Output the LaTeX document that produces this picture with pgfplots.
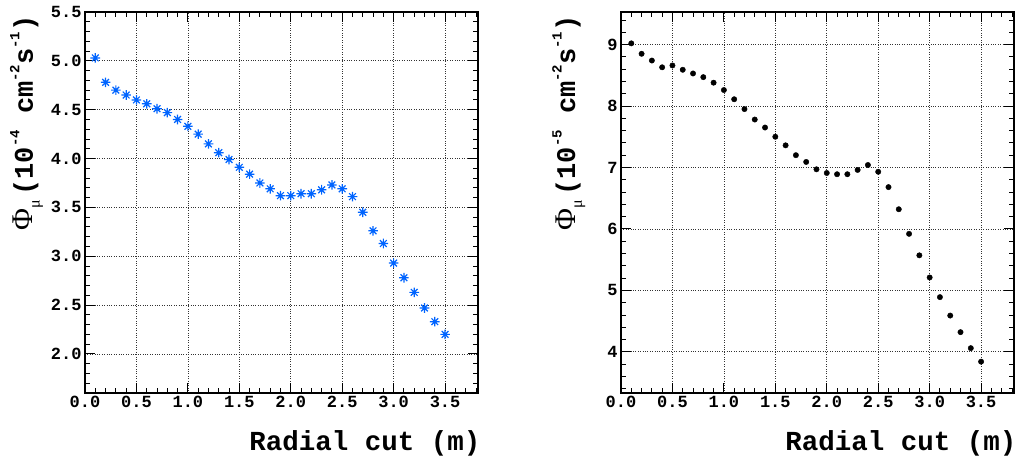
\documentclass[border=0pt]{standalone}
\usepackage{fontspec}
\setmonofont{Liberation Mono}
\newfontfamily\serif{Liberation Serif}
\usepackage{pgfplots}
\pgfplotsset{compat=1.18}
\usepackage{xcolor}
\definecolor{rootblue}{RGB}{0,100,255}

% ROOT style star: + and x overlaid
\pgfdeclareplotmark{rootstar}{%
  \pgfpathmoveto{\pgfqpoint{-\pgfplotmarksize}{0pt}}\pgfpathlineto{\pgfqpoint{\pgfplotmarksize}{0pt}}%
  \pgfpathmoveto{\pgfqpoint{0pt}{-\pgfplotmarksize}}\pgfpathlineto{\pgfqpoint{0pt}{\pgfplotmarksize}}%
  \pgfpathmoveto{\pgfqpoint{-.7\pgfplotmarksize}{-.7\pgfplotmarksize}}\pgfpathlineto{\pgfqpoint{.7\pgfplotmarksize}{.7\pgfplotmarksize}}%
  \pgfpathmoveto{\pgfqpoint{-.7\pgfplotmarksize}{.7\pgfplotmarksize}}\pgfpathlineto{\pgfqpoint{.7\pgfplotmarksize}{-.7\pgfplotmarksize}}%
  \pgfusepathqstroke}

\newcommand\sUp[1]{\raisebox{0.5em}{\fontsize{14}{14}\selectfont #1}}
\newcommand\flux[1]{{\serif\mdseries\fontsize{30}{30}\selectfont Φ}\raisebox{-0.25em}{\fontsize{16}{16}\selectfont\serif\mdseries μ}\,(10\sUp{-#1} cm\sUp{-2}s\sUp{-1})}

\pgfplotsset{rootstyle/.style={
  scale only axis, width=393pt, height=381pt,
  xmin=0, xmax=3.82,
  xtick={0,0.5,...,3.5},
  minor xtick={0,0.1,...,3.85},
  tick align=inside,
  major tick length=10pt, minor tick length=5pt,
  every tick/.style={black, line width=0.9pt},
  axis line style={line width=2.4pt},
  grid=major, grid style={dotted, black!80, line width=0.7pt},
  /pgf/number format/assume math mode=true,
  tick label style={font=\fontsize{17}{17}\selectfont\ttfamily\bfseries},
  xticklabel style={/pgf/number format/.cd, fixed, fixed zerofill, precision=1},
  xlabel={Radial cut (m)},
  xlabel style={font=\fontsize{27.5}{27.5}\selectfont\ttfamily\bfseries,
    at={(axis description cs:1,0)}, anchor=base east, yshift=-58pt, xshift=6pt},
  ylabel style={font=\fontsize{27}{27}\selectfont\ttfamily\bfseries,
    at={(axis description cs:0,1)}, anchor=base east},
}}

\begin{document}
\begin{tikzpicture}
\useasboundingbox (0,0) rectangle (1017pt,457pt);

% ---- left panel ----
\begin{axis}[rootstyle,
  at={(85pt,64pt)}, anchor=south west,
  ymin=1.6, ymax=5.5,
  ytick={2,2.5,...,5.5},
  minor ytick={1.6,1.7,...,5.55},
  yticklabel style={/pgf/number format/.cd, fixed, fixed zerofill, precision=1},
  ylabel={\flux{4}},
  ylabel style={yshift=52pt},
]
\addplot[only marks, mark=rootstar, mark size=4.8pt, color=rootblue, line width=1.2pt] coordinates {
  (0.1,5.03)(0.2,4.78)(0.3,4.70)(0.4,4.65)(0.5,4.60)(0.6,4.56)(0.7,4.51)
  (0.8,4.47)(0.9,4.40)(1.0,4.33)(1.1,4.25)(1.2,4.15)(1.3,4.06)(1.4,3.99)
  (1.5,3.91)(1.6,3.84)(1.7,3.75)(1.8,3.69)(1.9,3.62)(2.0,3.62)(2.1,3.64)
  (2.2,3.64)(2.3,3.68)(2.4,3.73)(2.5,3.69)(2.6,3.61)(2.7,3.45)(2.8,3.26)
  (2.9,3.13)(3.0,2.93)(3.1,2.78)(3.2,2.63)(3.3,2.47)(3.4,2.33)(3.5,2.20)
};
\end{axis}

% ---- right panel ----
\begin{axis}[rootstyle,
  at={(621pt,64pt)}, anchor=south west,
  ymin=3.33, ymax=9.53,
  ytick={4,5,...,9},
  minor ytick={3.4,3.6,...,9.45},
  ylabel={\flux{5}},
  ylabel style={yshift=46pt},
]
\addplot[only marks, mark=*, mark size=2.7pt, color=black] coordinates {
  (0.1,9.02)(0.2,8.85)(0.3,8.74)(0.4,8.63)(0.5,8.66)(0.6,8.59)(0.7,8.53)
  (0.8,8.47)(0.9,8.38)(1.0,8.26)(1.1,8.11)(1.2,7.95)(1.3,7.78)(1.4,7.65)
  (1.5,7.50)(1.6,7.36)(1.7,7.20)(1.8,7.09)(1.9,6.97)(2.0,6.91)(2.1,6.89)
  (2.2,6.89)(2.3,6.96)(2.4,7.04)(2.5,6.93)(2.6,6.68)(2.7,6.32)(2.8,5.92)
  (2.9,5.57)(3.0,5.21)(3.1,4.89)(3.2,4.59)(3.3,4.32)(3.4,4.06)(3.5,3.84)
};
\end{axis}
\end{tikzpicture}
\end{document}
